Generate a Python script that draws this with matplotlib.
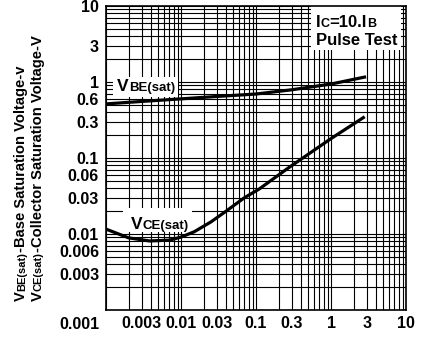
import numpy as np
import matplotlib
matplotlib.use("Agg")
import matplotlib.pyplot as plt
from matplotlib.patches import Rectangle
from matplotlib.ticker import FixedLocator, LogLocator, NullFormatter
from matplotlib.transforms import IdentityTransform

plt.rcParams['font.family'] = ['Liberation Sans', 'DejaVu Sans']
plt.rcParams['font.weight'] = 'bold'

# collector current Ic (A)
vbe_ic = [0.001, 0.003, 0.01, 0.03, 0.1, 0.3, 1.0, 2.8]
vbe_v = [0.515, 0.555, 0.60, 0.645, 0.695, 0.79, 0.94, 1.16]

vce_ic = [0.001, 0.002, 0.0038, 0.007, 0.01, 0.015, 0.025, 0.04, 0.07, 0.11, 0.27, 1.0, 2.7]
vce_v = [0.0116, 0.0089, 0.0081, 0.0083, 0.0091, 0.0107, 0.0144, 0.020, 0.030, 0.039, 0.074, 0.18, 0.34]

x_ticks = [0.003, 0.01, 0.03, 0.1, 0.3, 1, 3, 10]
x_labels = ['0.003', '0.01', '0.03', '0.1', '0.3', '1', '3', '10']
y_ticks = [0.003, 0.006, 0.01, 0.03, 0.06, 0.1, 0.3, 0.6, 1, 3, 10]
y_labels = ['0.003', '0.006', '0.01', '0.03', '0.06', '0.1', '0.3', '0.6', '1', '3', '10']

W, H = 422, 337
fig = plt.figure(figsize=(W / 100, H / 100), dpi=100)
ax = fig.add_axes([106 / W, 27 / H, 300 / W, 304 / H])

ax.plot(vbe_ic, vbe_v, color='black', lw=2.3, zorder=3)
ax.plot(vce_ic, vce_v, color='black', lw=2.3, zorder=3)

ax.set_xscale('log')
ax.set_yscale('log')
ax.set_xlim(0.001, 10)
ax.set_ylim(0.001, 10)

ax.xaxis.set_major_locator(FixedLocator(x_ticks))
ax.xaxis.set_ticklabels(x_labels)
ax.yaxis.set_major_locator(FixedLocator(y_ticks))
ax.yaxis.set_ticklabels(y_labels)
for axis in (ax.xaxis, ax.yaxis):
    axis.set_minor_locator(LogLocator(base=10, subs=np.arange(1, 10), numticks=20))
    axis.set_minor_formatter(NullFormatter())
ax.tick_params(which='both', length=0)
ax.tick_params(axis='y', pad=5, labelsize=11.5)
ax.tick_params(axis='x', pad=4, labelsize=11.5)
for lbl in ax.get_xticklabels() + ax.get_yticklabels():
    lbl.set_fontweight('bold')
ax.grid(which='both', color='black', lw=0.8)
for sp in ax.spines.values():
    sp.set_linewidth(1.2)

# lower left corner label
ax.text(-0.02, -0.022, '0.001', transform=ax.transAxes, ha='right', va='top',
        fontsize=11.5, fontweight='bold')


def to_axes(px, py):
    return (px - 106) / 300, (310 - py) / 304


# white boxes behind the labels
for x0, y0, x1, y1 in [(113, 77, 178, 97), (123, 208, 192, 232), (311, 6, 401, 50)]:
    ax0, ay0 = to_axes(x0, y1)
    ax.add_patch(Rectangle((ax0, ay0), (x1 - x0) / 300, (y1 - y0) / 304,
                           transform=ax.transAxes, facecolor='white',
                           edgecolor='none', zorder=1.8))

renderer = fig.canvas.get_renderer()


def put_runs(px, py, runs, rotation=0):
    # px, py in image pixels from the top left
    x, y = px, H - py
    for s, size in runs:
        t = fig.text(x, y, s, transform=IdentityTransform(), rotation=rotation,
                     rotation_mode='anchor', ha='left', va='baseline',
                     fontsize=size, fontweight='bold', zorder=5)
        bb = t.get_window_extent(renderer)
        if rotation == 90:
            y += bb.height
        else:
            x += bb.width


put_runs(117, 91, [('V', 12.5), ('BE(sat)', 9.5)])
put_runs(131, 229, [('V', 12.5), ('CE(sat)', 9.5)])
put_runs(316, 27, [('I', 12), ('C', 9), ('=10.I', 12), ('B', 9)])
put_runs(316, 45, [('Pulse Test', 12)])

put_runs(25, 301, [('V', 10.6), ('BE(sat)', 8), ('-Base Saturation Voltage-v', 10.6)], rotation=90)
put_runs(42, 301, [('V', 10.6), ('CE(sat)', 8), ('-Collector Saturation Voltage-V', 10.6)], rotation=90)

fig.savefig('out.png', dpi=100)
